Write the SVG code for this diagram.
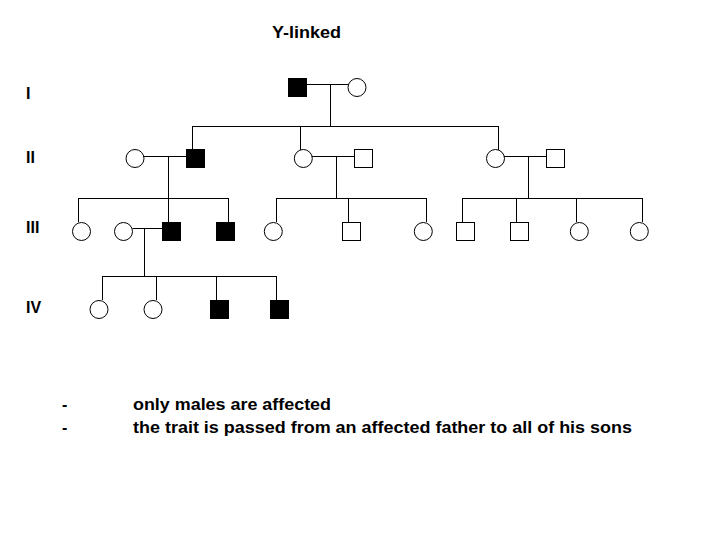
<svg xmlns="http://www.w3.org/2000/svg" width="720" height="540" viewBox="0 0 720 540">
<style>
.t{font-family:"Liberation Sans",Arial,sans-serif;font-weight:bold;font-size:16px;fill:#000}
.f{fill:#fff;stroke:#000;stroke-width:1}
.a{fill:#000;stroke:#000;stroke-width:1}
.c line{stroke:#000;stroke-width:1}
</style>
<rect width="720" height="540" fill="#fff"/>
<text class="t" x="272" y="38" textLength="69" lengthAdjust="spacingAndGlyphs">Y-linked</text>
<g id="gen-labels">
<text class="t" x="26" y="99">I</text>
<text class="t" x="26" y="163">II</text>
<text class="t" x="26" y="233">III</text>
<text class="t" x="26" y="313">IV</text>
</g>
<g class="c" id="connectors">
<line x1="307" y1="84.5" x2="348" y2="84.5"/>
<line x1="330.5" y1="84.5" x2="330.5" y2="126.5"/>
<line x1="192" y1="126.5" x2="499" y2="126.5"/>
<line x1="192.5" y1="126.5" x2="192.5" y2="150"/>
<line x1="300.5" y1="126.5" x2="300.5" y2="150"/>
<line x1="498.5" y1="126.5" x2="498.5" y2="150"/>
<line x1="144" y1="156.5" x2="186" y2="156.5"/>
<line x1="168.5" y1="156.5" x2="168.5" y2="198.5"/>
<line x1="312" y1="156.5" x2="354" y2="156.5"/>
<line x1="336.5" y1="156.5" x2="336.5" y2="198.5"/>
<line x1="504" y1="156.5" x2="546" y2="156.5"/>
<line x1="528.5" y1="156.5" x2="528.5" y2="198.5"/>
<line x1="78" y1="198.5" x2="229" y2="198.5"/>
<line x1="78.5" y1="198.5" x2="78.5" y2="222"/>
<line x1="168.5" y1="198.5" x2="168.5" y2="222"/>
<line x1="228.5" y1="198.5" x2="228.5" y2="222"/>
<line x1="276" y1="198.5" x2="427" y2="198.5"/>
<line x1="276.5" y1="198.5" x2="276.5" y2="222"/>
<line x1="348.5" y1="198.5" x2="348.5" y2="222"/>
<line x1="426.5" y1="198.5" x2="426.5" y2="222"/>
<line x1="462" y1="198.5" x2="643" y2="198.5"/>
<line x1="462.5" y1="198.5" x2="462.5" y2="222"/>
<line x1="516.5" y1="198.5" x2="516.5" y2="222"/>
<line x1="576.5" y1="198.5" x2="576.5" y2="222"/>
<line x1="642.5" y1="198.5" x2="642.5" y2="222"/>
<line x1="132.5" y1="228.5" x2="162" y2="228.5"/>
<line x1="144.5" y1="228.5" x2="144.5" y2="276.5"/>
<line x1="102" y1="276.5" x2="277" y2="276.5"/>
<line x1="102.5" y1="276.5" x2="102.5" y2="300"/>
<line x1="156.5" y1="276.5" x2="156.5" y2="300"/>
<line x1="216.5" y1="276.5" x2="216.5" y2="300"/>
<line x1="276.5" y1="276.5" x2="276.5" y2="300"/>
</g>
<g id="I-1"><rect class="a" x="288.5" y="78.5" width="18" height="18"/></g>
<g id="I-2"><circle class="f" cx="357" cy="87.5" r="9"/></g>
<g id="II-1"><circle class="f" cx="135" cy="158.5" r="9"/></g>
<g id="II-2"><rect class="a" x="186.5" y="149.5" width="18" height="18"/></g>
<g id="II-3"><circle class="f" cx="303.3" cy="158.5" r="9"/></g>
<g id="II-4"><rect class="f" x="354.5" y="149.5" width="18" height="18"/></g>
<g id="II-5"><circle class="f" cx="495.5" cy="158.5" r="9"/></g>
<g id="II-6"><rect class="f" x="546.5" y="149.5" width="18" height="18"/></g>
<g id="III-1"><circle class="f" cx="81.5" cy="231.5" r="9"/></g>
<g id="III-2"><circle class="f" cx="123.5" cy="231.5" r="9"/></g>
<g id="III-3"><rect class="a" x="162.5" y="222.5" width="18" height="18"/></g>
<g id="III-4"><rect class="a" x="216.5" y="222.5" width="18" height="18"/></g>
<g id="III-5"><circle class="f" cx="273.3" cy="231.5" r="9"/></g>
<g id="III-6"><rect class="f" x="342.5" y="222.5" width="18" height="18"/></g>
<g id="III-7"><circle class="f" cx="423.3" cy="231.5" r="9"/></g>
<g id="III-8"><rect class="f" x="456.5" y="222.5" width="18" height="18"/></g>
<g id="III-9"><rect class="f" x="510.5" y="222.5" width="18" height="18"/></g>
<g id="III-10"><circle class="f" cx="579.3" cy="231.5" r="9"/></g>
<g id="III-11"><circle class="f" cx="639.3" cy="231.5" r="9"/></g>
<g id="IV-1"><circle class="f" cx="99" cy="309.5" r="9"/></g>
<g id="IV-2"><circle class="f" cx="153" cy="309.5" r="9"/></g>
<g id="IV-3"><rect class="a" x="210.5" y="300.5" width="18" height="18"/></g>
<g id="IV-4"><rect class="a" x="270.5" y="300.5" width="18" height="18"/></g>
<g id="notes">
<text class="t" x="62" y="410">-</text>
<text class="t" x="62" y="433">-</text>
<text class="t" x="133" y="410" textLength="198" lengthAdjust="spacingAndGlyphs">only males are affected</text>
<text class="t" x="133" y="433" textLength="499" lengthAdjust="spacingAndGlyphs">the trait is passed from an affected father to all of his sons</text>
</g>
</svg>
